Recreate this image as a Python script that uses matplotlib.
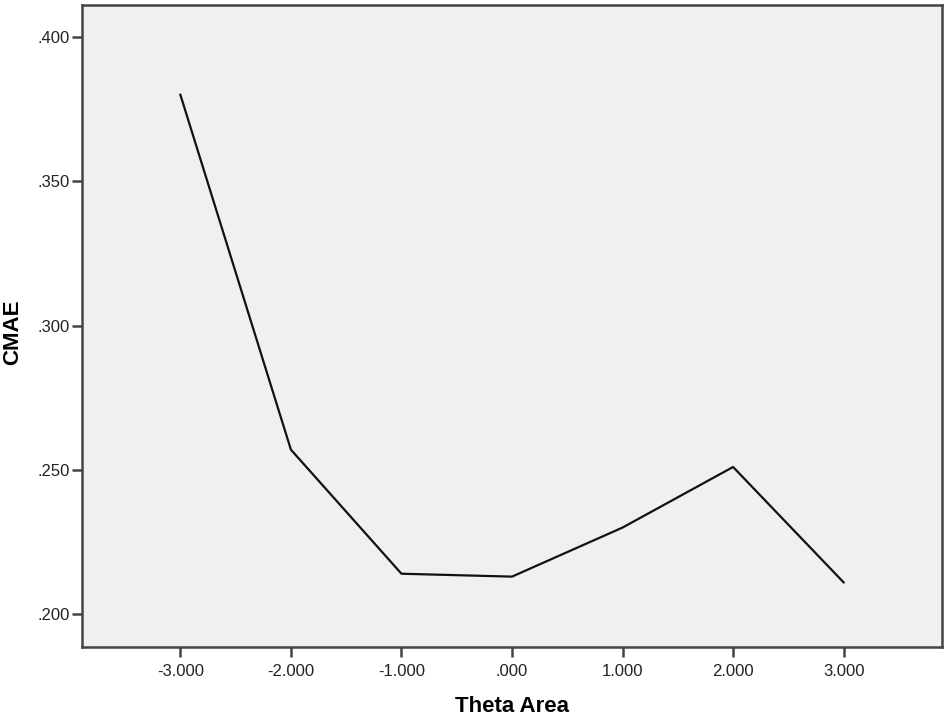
import matplotlib
matplotlib.use('Agg')
import matplotlib.pyplot as plt
from matplotlib.ticker import FuncFormatter

theta = [-3, -2, -1, 0, 1, 2, 3]
cmae = [0.380, 0.257, 0.214, 0.213, 0.230, 0.251, 0.211]
x_ticks = [-3, -2, -1, 0, 1, 2, 3]
y_ticks = [0.200, 0.250, 0.300, 0.350, 0.400]


def spss_fmt(v, pos):
	s = '%.3f' % v
	if s.startswith('0.'):
		s = s[1:]
	elif s.startswith('-0.'):
		s = '-' + s[2:]
	return s


plt.rcParams['font.family'] = ['Liberation Sans', 'DejaVu Sans']

fig = plt.figure(figsize=(9.5, 7.17), dpi=100)
ax = fig.add_axes([0.0863, 0.0976, 0.9053, 0.8954])
ax.set_facecolor('#f0f0f0')

ax.plot(theta, cmae, color='#111111', linewidth=1.6)

ax.set_xlim(-3.89, 3.89)
ax.set_ylim(0.1886, 0.4111)
ax.set_xticks(x_ticks)
ax.set_yticks(y_ticks)
ax.xaxis.set_major_formatter(FuncFormatter(spss_fmt))
ax.yaxis.set_major_formatter(FuncFormatter(spss_fmt))

for s in ax.spines.values():
	s.set_color('#444444')
	s.set_linewidth(1.8)

ax.tick_params(direction='out', length=7, width=1.8, color='#444444',
	labelsize=12, labelcolor='#222222')
ax.tick_params(axis='x', pad=5)
ax.tick_params(axis='y', pad=2)

ax.set_xlabel('Theta Area', fontsize=16, fontweight='bold')
ax.set_ylabel('CMAE', fontsize=16, fontweight='bold')
ax.xaxis.set_label_coords(0.5, -0.076)
ax.yaxis.set_label_coords(-0.068, 0.49)

plt.savefig('out.png', dpi=100)
